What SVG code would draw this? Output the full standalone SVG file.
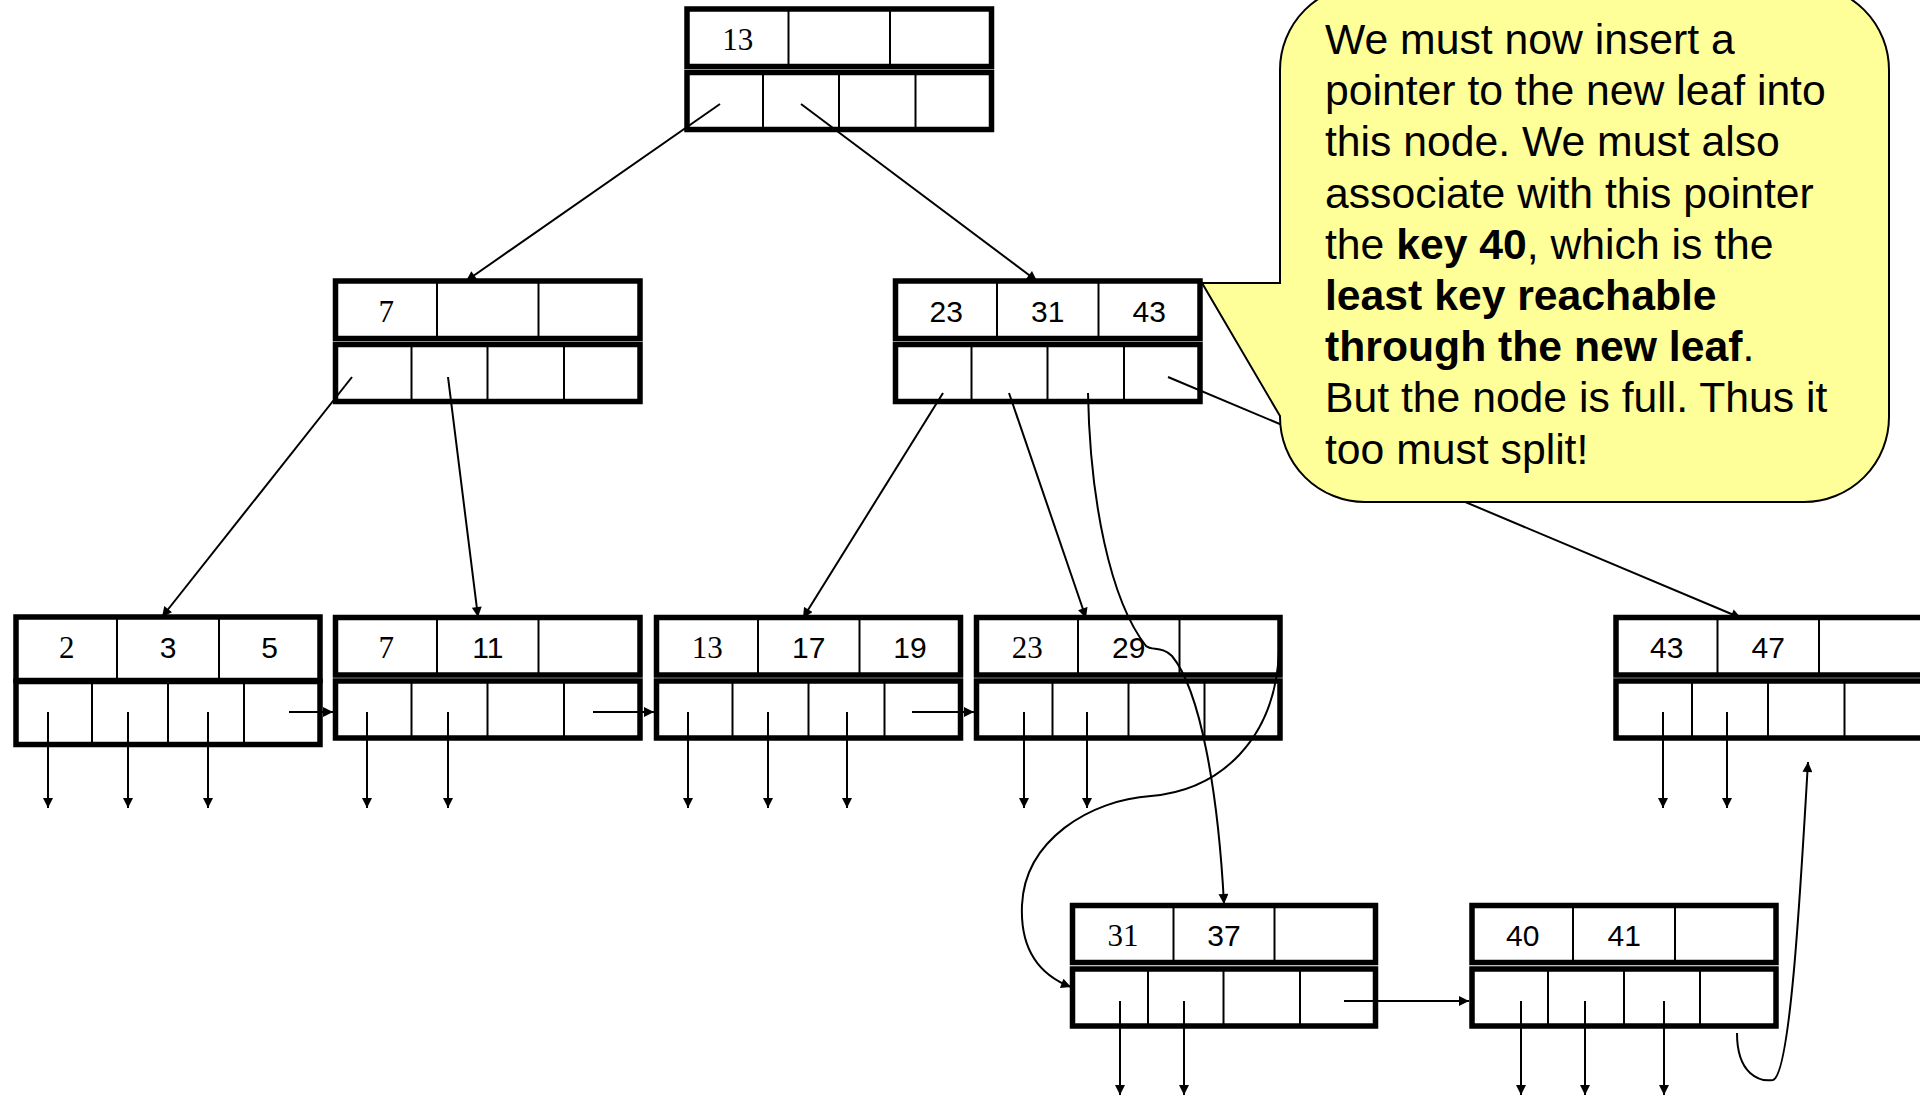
<svg xmlns="http://www.w3.org/2000/svg" width="1920" height="1097" viewBox="0 0 1920 1097">
  <style>
    .box { fill: #ffffff; stroke: #000000; stroke-width: 5.5; }
    .div { stroke: #000000; stroke-width: 2; }
    .ks { font-family: "Liberation Serif", "Times New Roman", serif; font-size: 31px; text-anchor: middle; fill: #000; }
    .kn { font-family: "Liberation Sans", Arial, sans-serif; font-size: 30px; text-anchor: middle; fill: #000; }
    .edge { fill: none; stroke: #000000; stroke-width: 2; marker-end: url(#ah); }
    .bubble { fill: #ffff99; stroke: #000000; stroke-width: 2; }
    .note { font-family: "Liberation Sans", Arial, sans-serif; font-size: 42.7px; fill: #000; }
    .note tspan.b { font-weight: bold; }
  </style>
  <defs>
    <marker id="ah" viewBox="0 0 10 10" refX="10" refY="5" markerWidth="11" markerHeight="10" markerUnits="userSpaceOnUse" orient="auto">
      <path d="M0,0 L10,5 L0,10 z" fill="#000"/>
    </marker>
  </defs>

  <rect width="1920" height="1097" fill="#ffffff"/>

  <!-- root -->
  <g id="node-root" transform="translate(687,9)">
    <rect class="box" x="0" y="0" width="304.5" height="57.5"/>
    <rect class="box" x="0" y="63.5" width="304.5" height="57"/>
    <line class="div" x1="101.5" y1="0" x2="101.5" y2="57.5"/>
    <line class="div" x1="203" y1="0" x2="203" y2="57.5"/>
    <line class="div" x1="76" y1="63.5" x2="76" y2="120.5"/>
    <line class="div" x1="152" y1="63.5" x2="152" y2="120.5"/>
    <line class="div" x1="228.5" y1="63.5" x2="228.5" y2="120.5"/>
    <text class="ks" x="50.75" y="40.5">13</text>
  </g>

  <!-- internal node 7 -->
  <g id="node-7" transform="translate(335.5,281)">
    <rect class="box" x="0" y="0" width="304.5" height="57.5"/>
    <rect class="box" x="0" y="63.5" width="304.5" height="57"/>
    <line class="div" x1="101.5" y1="0" x2="101.5" y2="57.5"/>
    <line class="div" x1="203" y1="0" x2="203" y2="57.5"/>
    <line class="div" x1="76" y1="63.5" x2="76" y2="120.5"/>
    <line class="div" x1="152" y1="63.5" x2="152" y2="120.5"/>
    <line class="div" x1="228.5" y1="63.5" x2="228.5" y2="120.5"/>
    <text class="ks" x="50.75" y="40.5">7</text>
  </g>

  <!-- internal node 23 31 43 -->
  <g id="node-23" transform="translate(895.5,281)">
    <rect class="box" x="0" y="0" width="304.5" height="57.5"/>
    <rect class="box" x="0" y="63.5" width="304.5" height="57"/>
    <line class="div" x1="101.5" y1="0" x2="101.5" y2="57.5"/>
    <line class="div" x1="203" y1="0" x2="203" y2="57.5"/>
    <line class="div" x1="76" y1="63.5" x2="76" y2="120.5"/>
    <line class="div" x1="152" y1="63.5" x2="152" y2="120.5"/>
    <line class="div" x1="228.5" y1="63.5" x2="228.5" y2="120.5"/>
    <text class="kn" x="50.75" y="40.5">23</text>
    <text class="kn" x="152.25" y="40.5">31</text>
    <text class="kn" x="253.75" y="40.5">43</text>
  </g>

  <!-- leaf 2 3 5 -->
  <g id="leaf-2" transform="translate(16,617)">
    <rect class="box" x="0" y="0" width="304" height="63.5"/>
    <rect class="box" x="0" y="64.5" width="304" height="63"/>
    <line class="div" x1="101" y1="0" x2="101" y2="63.5"/>
    <line class="div" x1="203" y1="0" x2="203" y2="63.5"/>
    <line class="div" x1="76" y1="64.5" x2="76" y2="127.5"/>
    <line class="div" x1="152" y1="64.5" x2="152" y2="127.5"/>
    <line class="div" x1="228" y1="64.5" x2="228" y2="127.5"/>
    <text class="ks" x="50.75" y="40.5">2</text>
    <text class="kn" x="152" y="40.5">3</text>
    <text class="kn" x="253.5" y="40.5">5</text>
  </g>

  <!-- leaf 7 11 -->
  <g id="leaf-7" transform="translate(335.5,617.5)">
    <rect class="box" x="0" y="0" width="304.5" height="57.5"/>
    <rect class="box" x="0" y="63.5" width="304.5" height="57"/>
    <line class="div" x1="101.5" y1="0" x2="101.5" y2="57.5"/>
    <line class="div" x1="203" y1="0" x2="203" y2="57.5"/>
    <line class="div" x1="76" y1="63.5" x2="76" y2="120.5"/>
    <line class="div" x1="152" y1="63.5" x2="152" y2="120.5"/>
    <line class="div" x1="228.5" y1="63.5" x2="228.5" y2="120.5"/>
    <text class="ks" x="50.75" y="40">7</text>
    <text class="kn" x="152.25" y="40">11</text>
  </g>

  <!-- leaf 13 17 19 -->
  <g id="leaf-13" transform="translate(656.5,617.5)">
    <rect class="box" x="0" y="0" width="304" height="57.5"/>
    <rect class="box" x="0" y="63.5" width="304" height="57"/>
    <line class="div" x1="101.5" y1="0" x2="101.5" y2="57.5"/>
    <line class="div" x1="203" y1="0" x2="203" y2="57.5"/>
    <line class="div" x1="76" y1="63.5" x2="76" y2="120.5"/>
    <line class="div" x1="152" y1="63.5" x2="152" y2="120.5"/>
    <line class="div" x1="228" y1="63.5" x2="228" y2="120.5"/>
    <text class="ks" x="50.75" y="40">13</text>
    <text class="kn" x="152.25" y="40">17</text>
    <text class="kn" x="253.5" y="40">19</text>
  </g>

  <!-- leaf 23 29 -->
  <g id="leaf-23" transform="translate(976.5,617.5)">
    <rect class="box" x="0" y="0" width="303.5" height="57.5"/>
    <rect class="box" x="0" y="63.5" width="303.5" height="57"/>
    <line class="div" x1="101.5" y1="0" x2="101.5" y2="57.5"/>
    <line class="div" x1="203" y1="0" x2="203" y2="57.5"/>
    <line class="div" x1="76" y1="63.5" x2="76" y2="120.5"/>
    <line class="div" x1="152" y1="63.5" x2="152" y2="120.5"/>
    <line class="div" x1="228" y1="63.5" x2="228" y2="120.5"/>
    <text class="ks" x="50.75" y="40">23</text>
    <text class="kn" x="152.25" y="40">29</text>
  </g>

  <!-- leaf 43 47 (runs past the right edge) -->
  <g id="leaf-43" transform="translate(1616,617.5)">
    <rect class="box" x="0" y="0" width="312" height="57.5"/>
    <rect class="box" x="0" y="63.5" width="312" height="57"/>
    <line class="div" x1="101.5" y1="0" x2="101.5" y2="57.5"/>
    <line class="div" x1="203" y1="0" x2="203" y2="57.5"/>
    <line class="div" x1="76" y1="63.5" x2="76" y2="120.5"/>
    <line class="div" x1="152" y1="63.5" x2="152" y2="120.5"/>
    <line class="div" x1="228.5" y1="63.5" x2="228.5" y2="120.5"/>
    <text class="kn" x="50.75" y="40">43</text>
    <text class="kn" x="152.25" y="40">47</text>
  </g>

  <!-- new leaf 31 37 -->
  <g id="leaf-31" transform="translate(1072.5,905.5)">
    <rect class="box" x="0" y="0" width="303" height="57"/>
    <rect class="box" x="0" y="63.5" width="303" height="57"/>
    <line class="div" x1="101" y1="0" x2="101" y2="57"/>
    <line class="div" x1="202" y1="0" x2="202" y2="57"/>
    <line class="div" x1="75.5" y1="63.5" x2="75.5" y2="120.5"/>
    <line class="div" x1="151" y1="63.5" x2="151" y2="120.5"/>
    <line class="div" x1="227.5" y1="63.5" x2="227.5" y2="120.5"/>
    <text class="ks" x="50.5" y="40">31</text>
    <text class="kn" x="151.5" y="40">37</text>
  </g>

  <!-- new leaf 40 41 -->
  <g id="leaf-40" transform="translate(1472,905.5)">
    <rect class="box" x="0" y="0" width="304" height="57"/>
    <rect class="box" x="0" y="63.5" width="304" height="57"/>
    <line class="div" x1="101" y1="0" x2="101" y2="57"/>
    <line class="div" x1="203" y1="0" x2="203" y2="57"/>
    <line class="div" x1="76" y1="63.5" x2="76" y2="120.5"/>
    <line class="div" x1="152" y1="63.5" x2="152" y2="120.5"/>
    <line class="div" x1="228" y1="63.5" x2="228" y2="120.5"/>
    <text class="kn" x="50.75" y="40">40</text>
    <text class="kn" x="152.25" y="40">41</text>
  </g>

  <!-- pointers -->
  <g id="connectors">
    <!-- root to children -->
    <line class="edge" x1="720" y1="104" x2="466" y2="281"/>
    <line class="edge" x1="801" y1="104" x2="1037" y2="281"/>
    <!-- node 7 to leaves -->
    <line class="edge" x1="352" y1="377" x2="162" y2="617"/>
    <line class="edge" x1="448" y1="377" x2="478" y2="617"/>
    <!-- node 23 to leaves -->
    <line class="edge" x1="943" y1="393" x2="803" y2="618"/>
    <line class="edge" x1="1009" y1="393" x2="1086" y2="618"/>
    <path class="edge" d="M1088,393 C1090,500 1110,600 1146,646 C1152,651 1162,646 1172,656 C1200,690 1218,790 1224,904"/>
    <line class="edge" x1="1168" y1="377" x2="1741" y2="618"/>
    <!-- leaf 23 sibling link rerouted to new leaf -->
    <path class="edge" d="M1279,652 C1275,740 1220,790 1151,796 C1090,800 1025,840 1022,905 C1020,950 1040,975 1071,987"/>
    <!-- new leaf 40 sibling link to leaf 43 -->
    <path class="edge" d="M1737,1033 C1737,1075 1760,1082 1773,1080 C1790,1075 1800,900 1808,762"/>

    <!-- sibling links -->
    <line class="edge" x1="289" y1="712" x2="333" y2="712"/>
    <line class="edge" x1="593" y1="712" x2="654" y2="712"/>
    <line class="edge" x1="912" y1="712" x2="974" y2="712"/>
    <line class="edge" x1="1344" y1="1001" x2="1469" y2="1001"/>

    <!-- record pointers -->
    <line class="edge" x1="48" y1="712" x2="48" y2="808"/>
    <line class="edge" x1="128" y1="712" x2="128" y2="808"/>
    <line class="edge" x1="208" y1="712" x2="208" y2="808"/>
    <line class="edge" x1="367" y1="712" x2="367" y2="808"/>
    <line class="edge" x1="448" y1="712" x2="448" y2="808"/>
    <line class="edge" x1="688" y1="712" x2="688" y2="808"/>
    <line class="edge" x1="768" y1="712" x2="768" y2="808"/>
    <line class="edge" x1="847" y1="712" x2="847" y2="808"/>
    <line class="edge" x1="1024" y1="712" x2="1024" y2="808"/>
    <line class="edge" x1="1087" y1="712" x2="1087" y2="808"/>
    <line class="edge" x1="1663" y1="712" x2="1663" y2="808"/>
    <line class="edge" x1="1727" y1="712" x2="1727" y2="808"/>
    <line class="edge" x1="1120" y1="1001" x2="1120" y2="1095"/>
    <line class="edge" x1="1184" y1="1001" x2="1184" y2="1095"/>
    <line class="edge" x1="1521" y1="1001" x2="1521" y2="1095"/>
    <line class="edge" x1="1585" y1="1001" x2="1585" y2="1095"/>
    <line class="edge" x1="1664" y1="1001" x2="1664" y2="1095"/>
  </g>

  <!-- callout -->
  <g id="callout">
    <path class="bubble" d="M1280,283 L1202,283 L1280,416 L1280,417 A85,85 0 0 0 1365,502 L1804,502 A85,85 0 0 0 1889,417 L1889,70 A85,85 0 0 0 1804,-15 L1365,-15 A85,85 0 0 0 1280,70 Z"/>
    <text class="note" x="1325">
      <tspan x="1325" y="54">We must now insert a</tspan>
      <tspan x="1325" y="105.2">pointer to the new leaf into</tspan>
      <tspan x="1325" y="156.4">this node. We must also</tspan>
      <tspan x="1325" y="207.6">associate with this pointer</tspan>
      <tspan x="1325" y="258.8">the <tspan class="b">key 40</tspan>, which is the</tspan>
      <tspan x="1325" y="310" class="b">least key reachable</tspan>
      <tspan x="1325" y="361.2"><tspan class="b">through the new leaf</tspan>.</tspan>
      <tspan x="1325" y="412.4">But the node is full. Thus it</tspan>
      <tspan x="1325" y="463.6">too must split!</tspan>
    </text>
  </g>
</svg>
